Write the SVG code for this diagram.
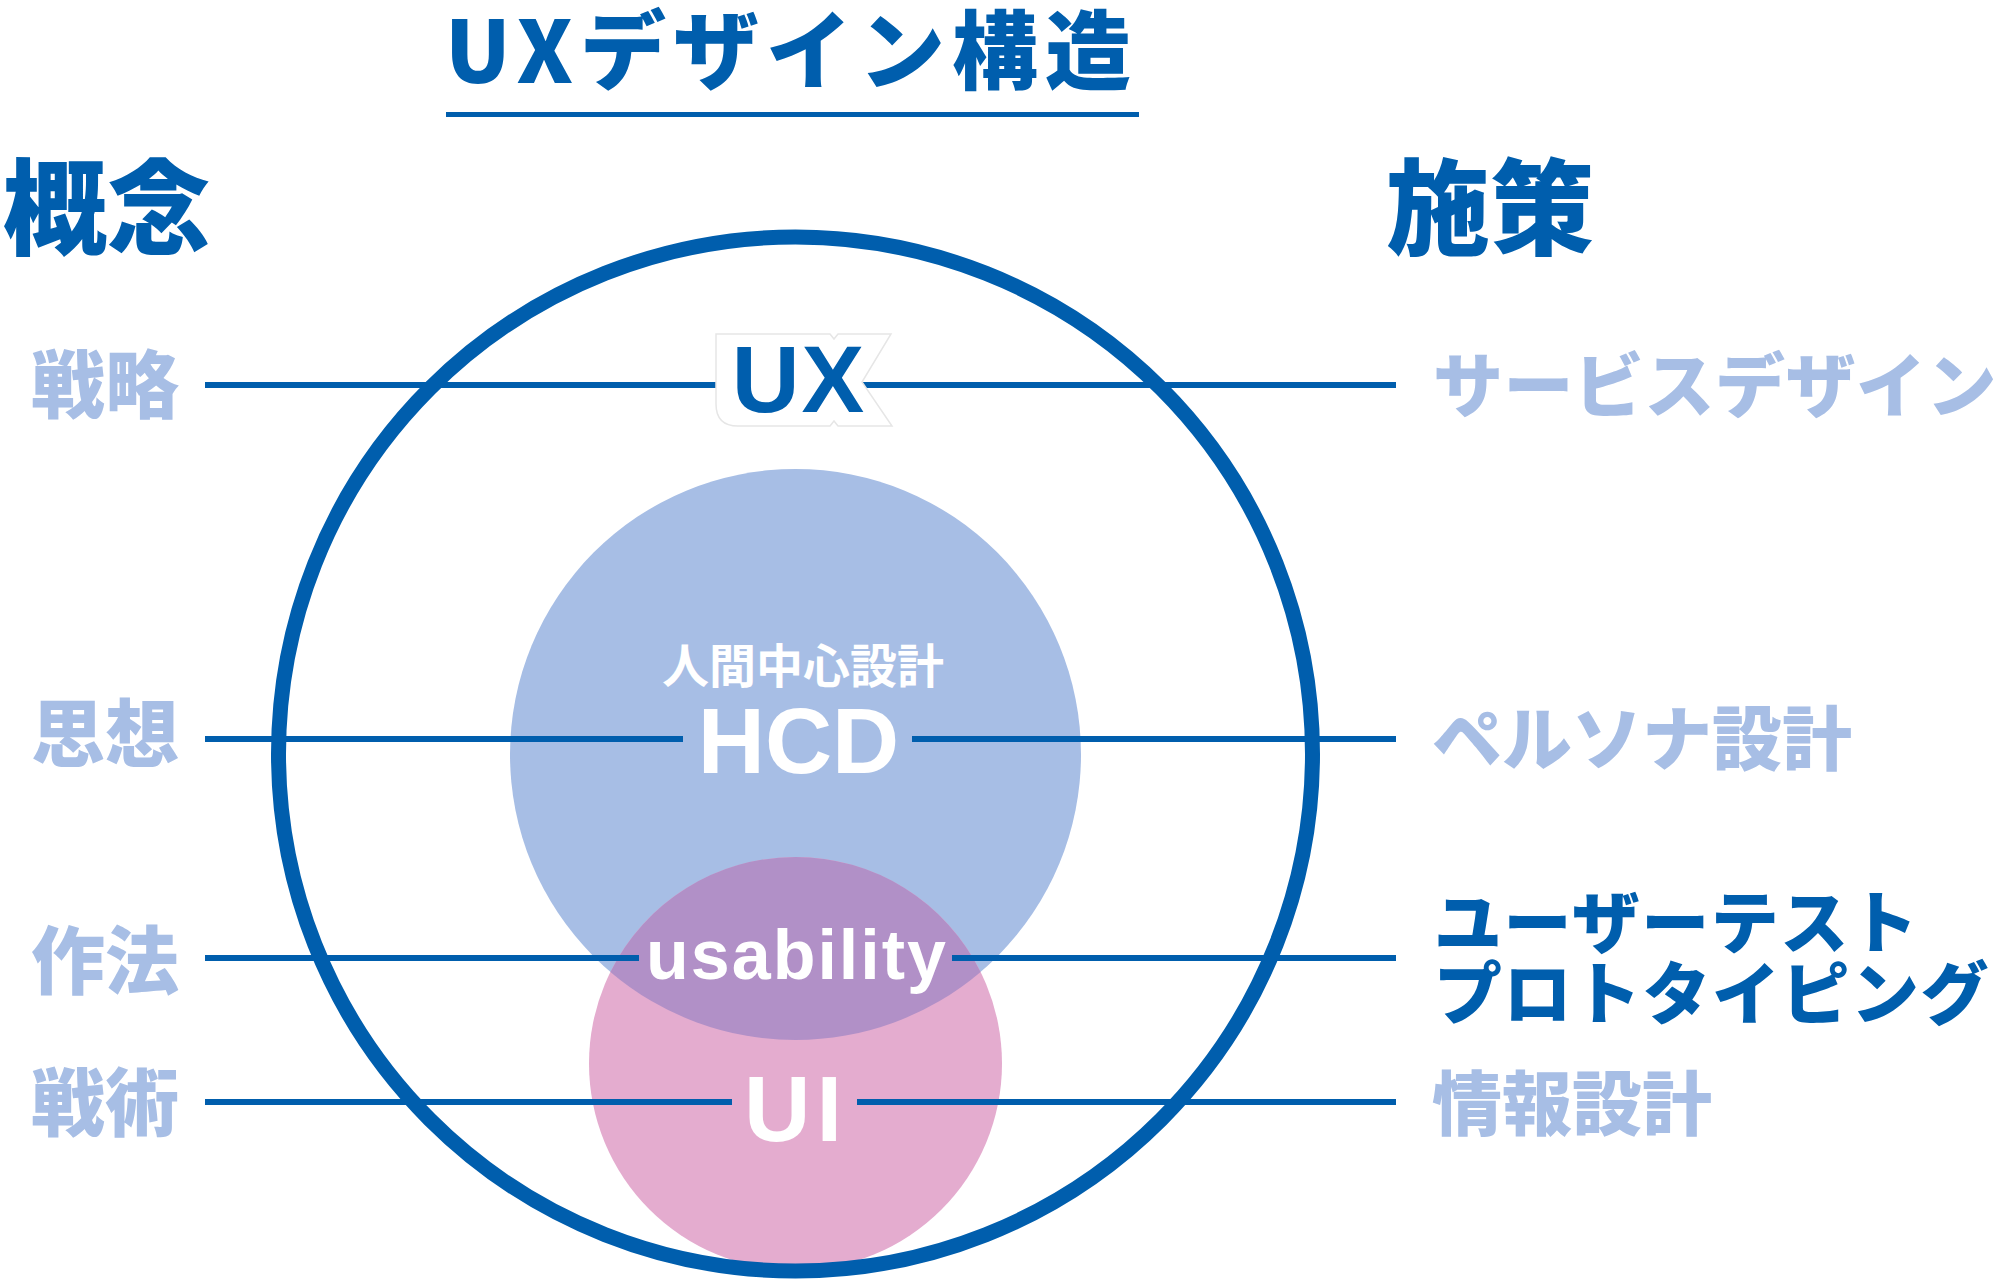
<svg xmlns="http://www.w3.org/2000/svg" width="1999" height="1279" viewBox="0 0 1999 1279">
  <style>
    .jp { font-family: "Noto Sans CJK JP", "Noto Sans CJK SC", sans-serif; }
    .lat { font-family: "Liberation Sans", Arial, sans-serif; font-weight: 700; }
    .dark { fill: #005EAD; }
    .light { fill: #A7BEE5; }
    .white { fill: #FFFFFF; }
    .head { font-size: 104px; font-weight: 900; }
    .lbl { font-size: 74px; font-weight: 900; }
    .rlbl { font-size: 70px; font-weight: 900; }
    .conn { stroke: #005EAD; stroke-width: 6; fill: none; }
  </style>
  <rect width="1999" height="1279" fill="#FFFFFF"/>

  <g id="title">
    <text class="jp dark" x="445" y="83" font-size="86" font-weight="900" textLength="686" lengthAdjust="spacing">UXデザイン構造</text>
    <rect x="446" y="112" width="693" height="5" fill="#005EAD"/>
  </g>
  <g id="heading-concept"><text class="jp dark head" x="3" y="247">概念</text></g>
  <g id="heading-measures"><text class="jp dark head" x="1386" y="247">施策</text></g>

  <g id="circle-hcd"><circle cx="795.5" cy="754.5" r="285.5" fill="#A7BEE5"/></g>
  <g id="circle-ui"><circle cx="795.5" cy="1063.5" r="206.5" fill="#E4ACCF"/></g>
  <g id="lens-usability"><path d="M610.4 971.9 A206.5 206.5 0 0 1 980.6 971.9 A285.5 285.5 0 0 1 610.4 971.9 Z" fill="#B190C7"/></g>
  <g id="circle-ux"><circle cx="795.5" cy="754" r="517" fill="none" stroke="#005EAD" stroke-width="15"/></g>

  <g id="connectors">
    <line class="conn" x1="205" y1="385" x2="1396" y2="385"/>
    <line class="conn" x1="205" y1="739" x2="683" y2="739"/>
    <line class="conn" x1="912" y1="739" x2="1396" y2="739"/>
    <line class="conn" x1="205" y1="958" x2="639" y2="958"/>
    <line class="conn" x1="952" y1="958" x2="1396" y2="958"/>
    <line class="conn" x1="205" y1="1102" x2="732" y2="1102"/>
    <line class="conn" x1="857" y1="1102" x2="1396" y2="1102"/>
  </g>

  <g id="node-ux">
    <path d="M716 334 L830 334 L834 339 L838 334 L891 334 L862 382 L892 426 L838 426 L834 421 L830 426 L738 426 Q716 426 716 404 Z" fill="#FFFFFF" stroke="#E6E6E6" stroke-width="1.5"/>
    <text class="lat dark" x="799" y="412" font-size="94" text-anchor="middle" letter-spacing="2">UX</text>
  </g>
  <g id="node-hcd">
    <text class="jp white" x="803" y="683" font-size="47" font-weight="700" text-anchor="middle">人間中心設計</text>
    <text class="lat white" x="798.5" y="773" font-size="93" text-anchor="middle">HCD</text>
  </g>
  <g id="node-usability">
    <text class="lat white" x="797" y="979" font-size="70" text-anchor="middle" letter-spacing="2">usability</text>
  </g>
  <g id="node-ui">
    <text class="lat white" x="796" y="1141" font-size="92" text-anchor="middle" letter-spacing="6">UI</text>
  </g>

  <g id="label-strategy"><text class="jp light lbl" x="31" y="412">戦略</text></g>
  <g id="label-thought"><text class="jp light lbl" x="31" y="761">思想</text></g>
  <g id="label-manner"><text class="jp light lbl" x="31" y="988">作法</text></g>
  <g id="label-tactics"><text class="jp light lbl" x="31" y="1130">戦術</text></g>

  <g id="label-service-design"><text class="jp light rlbl" x="1433" y="412" letter-spacing="0.5">サービスデザイン</text></g>
  <g id="label-persona"><text class="jp light rlbl" x="1432" y="765">ペルソナ設計</text></g>
  <g id="label-usertest">
    <text class="jp dark" font-size="68" font-weight="900" letter-spacing="1.5"><tspan x="1434" y="948">ユーザーテスト</tspan><tspan x="1434" y="1019">プロトタイピング</tspan></text>
  </g>
  <g id="label-ia"><text class="jp light rlbl" x="1432" y="1130">情報設計</text></g>
</svg>
